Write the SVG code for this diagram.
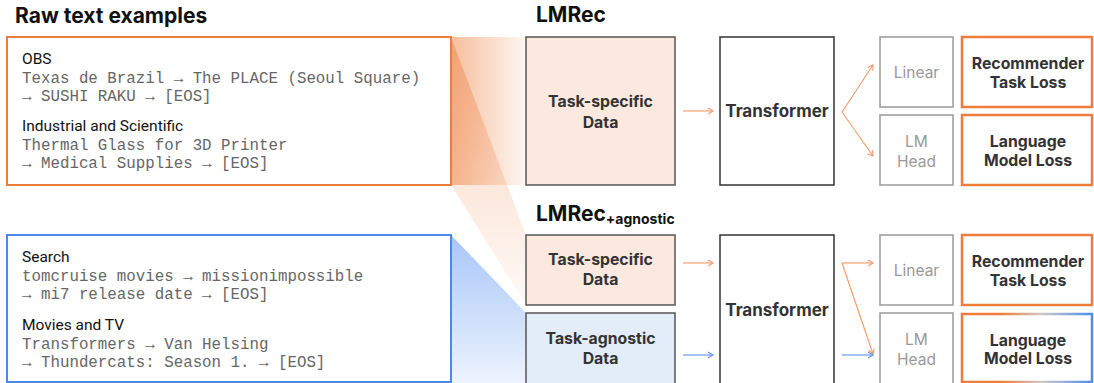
<svg xmlns="http://www.w3.org/2000/svg" width="1094" height="383" viewBox="0 0 1094 383">
<defs>
<style>
.title{font-family:Inter,"Liberation Sans",sans-serif;font-weight:700;font-size:21px;fill:#111}
.cat{font-family:Roboto,"Liberation Sans",sans-serif;font-size:15.5px;fill:#111}
.mono{font-family:"Liberation Mono",monospace;font-size:15.8px;fill:#666}
.bl{font-family:Inter,"Liberation Sans",sans-serif;font-weight:700;font-size:15.8px;fill:#333;text-anchor:middle}
.tf{font-size:17px}
.gl{font-family:Inter,"Liberation Sans",sans-serif;font-size:15.5px;fill:#999;text-anchor:middle}
.dark{fill:#fff;stroke:#333;stroke-width:1.5}
.gray{fill:#fff;stroke:#999;stroke-width:1.5}
.loss{fill:#fff;stroke:#EE7D3B;stroke-width:2.5}
.ao{fill:none;stroke:#F29A66;stroke-width:1.1;marker-end:url(#mo)}
.ab{fill:none;stroke:#5B93EE;stroke-width:1.1;marker-end:url(#mb)}
</style>
<marker id="mo" viewBox="0 0 8 8" refX="7" refY="4" markerWidth="8" markerHeight="8" markerUnits="userSpaceOnUse" orient="auto"><path d="M2,1 L7,4 L2,7" fill="none" stroke="#F29A66" stroke-width="1.1"/></marker>
<marker id="mb" viewBox="0 0 8 8" refX="7" refY="4" markerWidth="8" markerHeight="8" markerUnits="userSpaceOnUse" orient="auto"><path d="M2,1 L7,4 L2,7" fill="none" stroke="#5B93EE" stroke-width="1.1"/></marker>
<linearGradient id="gh" gradientUnits="userSpaceOnUse" x1="451" y1="0" x2="526" y2="0"><stop offset="0" stop-color="#EE7D3B" stop-opacity="0.5"/><stop offset="1" stop-color="#EE7D3B" stop-opacity="0.06"/></linearGradient>
<linearGradient id="gv" gradientUnits="userSpaceOnUse" x1="0" y1="37" x2="0" y2="305"><stop offset="0" stop-color="#EE7D3B" stop-opacity="0.45"/><stop offset="0.55" stop-color="#EE7D3B" stop-opacity="0.18"/><stop offset="1" stop-color="#EE7D3B" stop-opacity="0.04"/></linearGradient>
<linearGradient id="gb" gradientUnits="userSpaceOnUse" x1="0" y1="235" x2="0" y2="383"><stop offset="0" stop-color="#4A8AF0" stop-opacity="0.48"/><stop offset="1" stop-color="#4A8AF0" stop-opacity="0.1"/></linearGradient>
<linearGradient id="gs" gradientUnits="userSpaceOnUse" x1="962" y1="0" x2="1094" y2="0"><stop offset="0" stop-color="#EE7D3B"/><stop offset="0.3" stop-color="#EE7D3B"/><stop offset="0.6" stop-color="#CFC9C6"/><stop offset="1" stop-color="#4A8AF0"/></linearGradient>
</defs>

<g id="beams">
<polygon points="451,37 526,37 526,185 451,185" fill="url(#gh)"/>
<polygon points="451,37 526,235 526,305 451,185" fill="url(#gv)"/>
<polygon points="451,235 526,313 526,383 451,383" fill="url(#gb)"/>
</g>

<text class="title" x="15" y="23">Raw text examples</text>

<g id="raw-orange">
<rect x="7" y="37" width="444" height="148" fill="#fff" stroke="#EE7D3B" stroke-width="2"/>
<text class="cat" x="22" y="64">OBS</text>
<text class="mono" x="22" y="83">Texas de Brazil → The PLACE (Seoul Square)</text>
<text class="mono" x="22" y="101">→ SUSHI RAKU → [EOS]</text>
<text class="cat" x="22" y="131">Industrial and Scientific</text>
<text class="mono" x="22" y="150">Thermal Glass for 3D Printer</text>
<text class="mono" x="22" y="168">→ Medical Supplies → [EOS]</text>
</g>

<g id="raw-blue">
<rect x="7" y="235" width="444" height="147" fill="#fff" stroke="#4A8AF0" stroke-width="2"/>
<text class="cat" x="22" y="262">Search</text>
<text class="mono" x="22" y="281">tomcruise movies → missionimpossible</text>
<text class="mono" x="22" y="299">→ mi7 release date → [EOS]</text>
<text class="cat" x="22" y="330">Movies and TV</text>
<text class="mono" x="22" y="349">Transformers → Van Helsing</text>
<text class="mono" x="22" y="367">→ Thundercats: Season 1. → [EOS]</text>
</g>

<text class="title" x="536" y="22">LMRec</text>
<text class="title" x="536" y="221">LMRec<tspan font-size="14" dy="3">+agnostic</tspan></text>

<g id="top-data">
<rect x="526" y="37" width="149" height="148" fill="#FBE9DF" stroke="#555" stroke-width="1.5"/>
<text class="bl" x="600.5" y="107">Task-specific</text>
<text class="bl" x="600.5" y="128">Data</text>
</g>
<g id="top-transformer">
<rect class="dark" x="720" y="37" width="114" height="148"/>
<text class="bl tf" x="777" y="117">Transformer</text>
</g>
<g id="top-linear">
<rect class="gray" x="880" y="37" width="73" height="70"/>
<text class="gl" x="916.5" y="78">Linear</text>
</g>
<g id="top-lmhead">
<rect class="gray" x="880" y="115" width="73" height="70"/>
<text class="gl" x="916.5" y="147">LM</text>
<text class="gl" x="916.5" y="167">Head</text>
</g>
<g id="top-rec-loss">
<rect class="loss" x="962" y="37" width="130" height="70"/>
<text class="bl" x="1028" y="69">Recommender</text>
<text class="bl" x="1028" y="88">Task Loss</text>
</g>
<g id="top-lm-loss">
<rect class="loss" x="962" y="115" width="130" height="70"/>
<text class="bl" x="1028" y="147">Language</text>
<text class="bl" x="1028" y="166">Model Loss</text>
</g>

<g id="bot-data-specific">
<rect x="526" y="235" width="149" height="70" fill="#FBE9DF" stroke="#555" stroke-width="1.5"/>
<text class="bl" x="600.5" y="265">Task-specific</text>
<text class="bl" x="600.5" y="285">Data</text>
</g>
<g id="bot-data-agnostic">
<rect x="526" y="313" width="149" height="75" fill="#E3ECF9" stroke="#555" stroke-width="1.5"/>
<text class="bl" x="600.5" y="344">Task-agnostic</text>
<text class="bl" x="600.5" y="364">Data</text>
</g>
<g id="bot-transformer">
<rect class="dark" x="720" y="235" width="114" height="153"/>
<text class="bl tf" x="777" y="316">Transformer</text>
</g>
<g id="bot-linear">
<rect class="gray" x="880" y="235" width="73" height="70"/>
<text class="gl" x="916.5" y="276">Linear</text>
</g>
<g id="bot-lmhead">
<rect class="gray" x="880" y="313" width="73" height="75"/>
<text class="gl" x="916.5" y="345">LM</text>
<text class="gl" x="916.5" y="365">Head</text>
</g>
<g id="bot-rec-loss">
<rect class="loss" x="962" y="235" width="130" height="70"/>
<text class="bl" x="1028" y="267">Recommender</text>
<text class="bl" x="1028" y="286">Task Loss</text>
</g>
<g id="bot-lm-loss">
<rect x="962" y="314" width="130" height="68" fill="#fff" stroke="url(#gs)" stroke-width="2.5"/>
<text class="bl" x="1028" y="346">Language</text>
<text class="bl" x="1028" y="364">Model Loss</text>
</g>

<g id="connectors">
<line class="ao" x1="683" y1="111" x2="713" y2="111"/>
<line class="ao" x1="842" y1="112" x2="873" y2="65"/>
<line class="ao" x1="842" y1="112" x2="873" y2="156"/>
<line class="ao" x1="683" y1="263" x2="713" y2="263"/>
<line class="ab" x1="683" y1="355" x2="713" y2="355"/>
<line class="ao" x1="842" y1="263" x2="873" y2="263"/>
<line class="ao" x1="842" y1="263" x2="873" y2="354"/>
<line class="ab" x1="842" y1="355" x2="873" y2="355"/>
</g>
</svg>
